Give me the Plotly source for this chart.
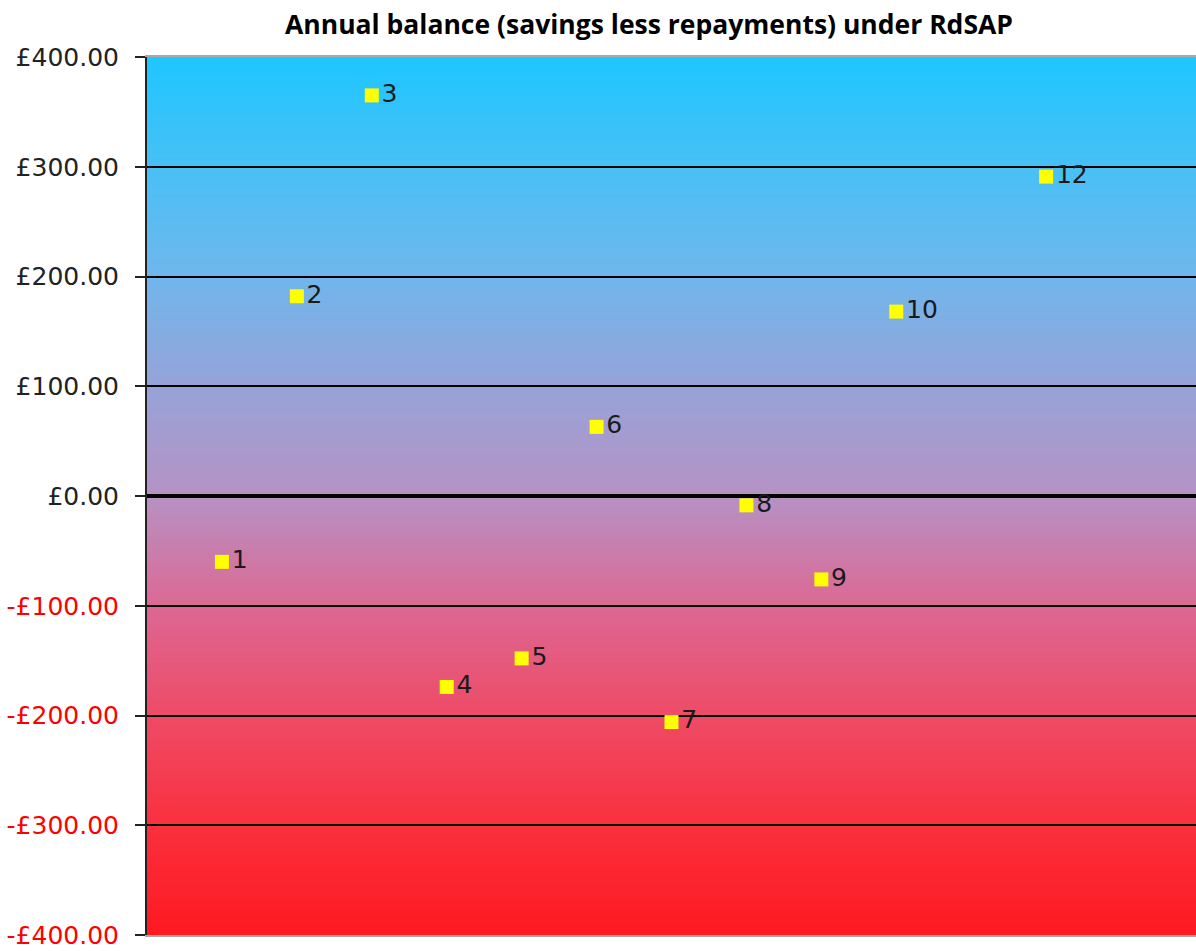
import plotly.graph_objects as go

# Annual balance per property (savings less repayments), £ per year.
# Property 11 has no figure.
property_ids = [1, 2, 3, 4, 5, 6, 7, 8, 9, 10, 11, 12]
annual_balance = [-60, 182, 365, -174, -148, 63, -206, -8.5, -76, 168, None, 291]
point_labels = ["1", "2", "3", "4", "5", "6", "7", "8", "9", "10", "11", "12"]

tick_values = [400, 300, 200, 100, 0, -100, -200, -300, -400]

# Vertical background gradient: value on the y axis -> colour (r, g, b)
gradient_levels = [-400, -300, -200, -100, 0, 100, 200, 300, 400]
gradient_colors = [
    (255, 25, 32),
    (250, 48, 62),
    (238, 75, 102),
    (220, 104, 148),
    (182, 146, 196),
    (150, 163, 216),
    (112, 182, 236),
    (72, 192, 246),
    (30, 198, 255),
]


def money(v):
    text = f"£{abs(v):,.2f}"
    if v < 0:
        return f'<span style="color:#ff0000">-{text}</span>'
    return text


def blend(v):
    """Linear interpolation of the gradient colour at axis value v."""
    for i in range(len(gradient_levels) - 1):
        a, b = gradient_levels[i], gradient_levels[i + 1]
        if a <= v <= b:
            t = (v - a) / (b - a)
            c0, c1 = gradient_colors[i], gradient_colors[i + 1]
            return "rgb({},{},{})".format(*[round(p + (q - p) * t) for p, q in zip(c0, c1)])
    return "rgb({},{},{})".format(*gradient_colors[-1])


tick_text = [money(v) for v in tick_values]

fig = go.Figure()

# Gradient backdrop: overlapping thin bands drawn beneath the gridlines
band = 4
bands = []
y0 = gradient_levels[0]
while y0 < gradient_levels[-1]:
    y1 = min(y0 + band, gradient_levels[-1])
    bands.append(dict(
        type="rect", xref="paper", yref="y",
        x0=0, x1=1, y0=y0, y1=min(y1 + band, gradient_levels[-1]),
        fillcolor=blend((y0 + y1) / 2),
        line=dict(width=0),
        layer="below",
    ))
    y0 = y1
fig.update_layout(shapes=bands)

fig.add_trace(go.Scatter(
    x=property_ids,
    y=annual_balance,
    mode="markers+text",
    text=point_labels,
    textposition="middle right",
    textfont=dict(family="DejaVu Sans", size=25, color="#1a1a1a"),
    marker=dict(symbol="square", size=14, color="#ffff00", line=dict(width=0)),
    hoverinfo="skip",
    cliponaxis=False,
))

fig.update_layout(
    width=1196,
    height=951,
    margin=dict(l=147, r=0, t=57, b=16),
    paper_bgcolor="white",
    plot_bgcolor="white",
    showlegend=False,
    hovermode=False,
    title=dict(
        text="<b>Annual balance (savings less repayments) under RdSAP</b>",
        x=649 / 1196, xanchor="center", xref="container",
        y=1 - 25 / 951, yanchor="middle", yref="container",
        font=dict(family="Open Sans", size=26.5, color="black"),
    ),
)

fig.update_xaxes(
    range=[0, 14],
    showgrid=False,
    zeroline=False,
    showticklabels=False,
    ticks="",
    showline=True,
    linecolor="#a8a8a8",
    linewidth=2,
    mirror=True,
)

fig.update_yaxes(
    range=[-400, 400],
    tickvals=tick_values,
    ticktext=tick_text,
    tickfont=dict(family="DejaVu Sans", size=25, color="#222222"),
    ticks="outside",
    ticklen=10,
    tickwidth=2,
    tickcolor="#222222",
    ticklabelstandoff=11,
    showgrid=True,
    gridcolor="black",
    gridwidth=1.5,
    zeroline=True,
    zerolinecolor="black",
    zerolinewidth=4,
    showline=True,
    linecolor="#222222",
    linewidth=2,
)

fig.write_html("out.html")
